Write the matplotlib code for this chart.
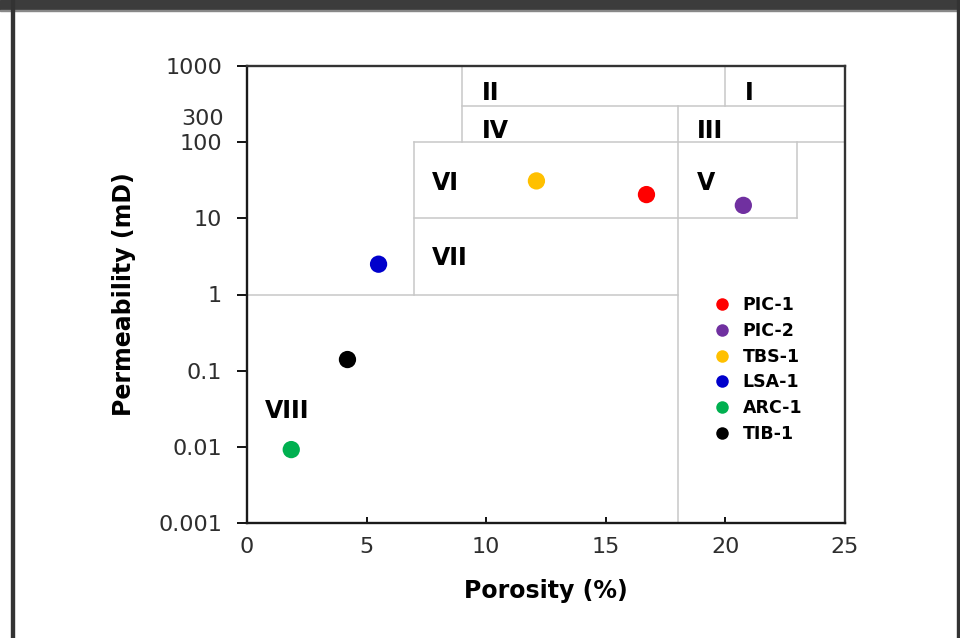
import matplotlib
matplotlib.use("Agg")
import matplotlib.pyplot as plt
from matplotlib.patches import Rectangle
from matplotlib.transforms import ScaledTranslation

plt.rcParams['font.family'] = ['DejaVu Sans']

# Data
samples = ["PIC-1", "PIC-2", "TBS-1", "LSA-1", "ARC-1", "TIB-1"]
porosity = [16.7, 20.75, 12.1, 5.5, 1.85, 4.2]
permeability = [20.5, 14.8, 31, 2.5, 0.0092, 0.14]
colors = ["#ff0000", "#7030a0", "#ffc000", "#0000cc", "#00b050", "#000000"]

# Region labels and boundaries (porosity %, permeability mD)
region_names = ["I", "II", "III", "IV", "V", "VI", "VII", "VIII"]
region_label_x = [20.8, 9.82, 18.8, 9.82, 18.8, 7.73, 7.73, 0.75]
region_label_y = [437, 437, 140, 140, 29.5, 29.5, 3.0, 0.0296]
# line segments: (x0, x1, y0, y1)
segments = [
    (9, 25, 300, 300),
    (7, 25, 100, 100),
    (7, 23, 10, 10),
    (0, 18, 1, 1),
    (9, 9, 100, 1000),
    (20, 20, 300, 1000),
    (18, 18, 0.001, 300),
    (7, 7, 1, 100),
    (23, 23, 10, 100),
]

x_ticks = [0, 5, 10, 15, 20, 25]
y_ticks = [0.001, 0.01, 0.1, 1, 10, 100, 1000]
y_tick_labels = ["0.001", "0.01", "0.1", "1", "10", "100", "1000"]

fig = plt.figure(figsize=(9.6, 6.38), dpi=100)
ax = fig.add_axes([247/960, 1-523/638, (845-247)/960, (523-66)/638])

for x0, x1, y0, y1 in segments:
    ax.plot([x0, x1], [y0, y1], color="#c8c8c8", lw=1.1, zorder=1)

for name, lx, ly in zip(region_names, region_label_x, region_label_y):
    ax.text(lx, ly, name, fontsize=17, fontweight='bold', ha='left', va='center', zorder=3)

for s, px, py, c in zip(samples, porosity, permeability, colors):
    ax.scatter(px, py, s=155, color=c, zorder=4, edgecolors='none')

ax.set_yscale('log')
ax.set_xlim(0, 25)
ax.set_ylim(0.001, 1000)
ax.set_xticks(x_ticks)
ax.set_xticklabels([str(t) for t in x_ticks])
ax.set_yticks(y_ticks)
ax.set_yticklabels(y_tick_labels)
ax.set_yticks([300], labels=["300"], minor=True)
ax.tick_params(axis='y', which='minor', length=0, labelsize=16, labelcolor='#2e2e2e', pad=17)
ax.tick_params(axis='y', which='major', direction='out', length=7, width=1.3, labelsize=16,
               labelcolor='#2e2e2e', pad=11)
ax.tick_params(axis='x', which='major', direction='in', length=4, width=1.3, labelsize=16,
               labelcolor='#2e2e2e', pad=10)
for lbl in ax.get_yticklabels(minor=True):
    lbl.set_transform(lbl.get_transform() + ScaledTranslation(0, -11/100, fig.dpi_scale_trans))

for sp in ax.spines.values():
    sp.set_linewidth(1.7)
    sp.set_color('#1a1a1a')
ax.spines['top'].set_color('#333333')
ax.spines['right'].set_color('#333333')

ax.set_xlabel("Porosity (%)", fontsize=17, fontweight='bold', labelpad=16)
ax.set_ylabel("Permeability (mD)", fontsize=17, fontweight='bold', labelpad=16)

handles = [plt.Line2D([], [], marker='o', ls='none', color=c, markersize=9, markeredgewidth=0)
           for c in colors]
leg = ax.legend(handles, samples, loc='upper left', bbox_to_anchor=((714-247)/598, (523-296)/457),
                frameon=False, prop={'weight': 'bold', 'size': 12.5}, handlelength=0.9,
                handletextpad=0.75, labelspacing=0.45, borderaxespad=0, borderpad=0)

# Outer frame
fig.patches.append(Rectangle((0, 1-10/638), 1, 10/638, transform=fig.transFigure,
                             color='#3c3c3c', zorder=0))
fig.patches.append(Rectangle((0, 1-11/638), 1, 1.2/638, transform=fig.transFigure,
                             color='#888888', zorder=0))
fig.patches.append(Rectangle((11/960, 0), 2.5/960, 1, transform=fig.transFigure,
                             color='#333333', zorder=0))
fig.patches.append(Rectangle((956.5/960, 0), 3.5/960, 1, transform=fig.transFigure,
                             color='#333333', zorder=0))

fig.savefig("out.png", dpi=100)
